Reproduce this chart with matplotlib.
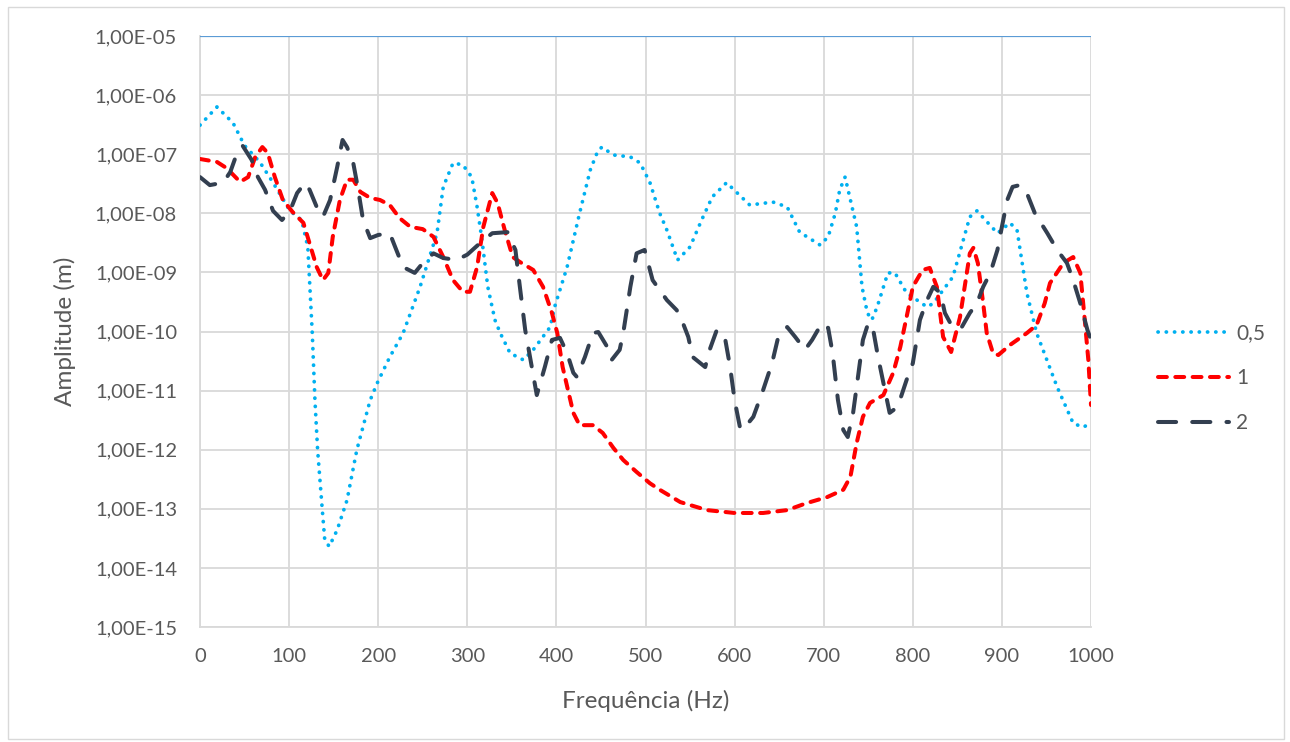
import math
import matplotlib
matplotlib.use("Agg")
import matplotlib.pyplot as plt
from matplotlib.ticker import FixedLocator, FuncFormatter, NullLocator
from matplotlib.patches import Rectangle

# ---------------- data ----------------
f_05 = [0, 19, 37, 50, 67, 82, 101, 114, 121, 126, 129, 132, 137, 140, 145, 154, 165, 176,
        191, 199, 213, 228, 247, 266, 273, 284, 295, 305, 311, 316, 323, 331, 337, 348, 363,
        374, 393, 398, 412, 426, 438, 446, 451, 464, 483, 494, 505, 516, 524, 536, 550, 563,
        575, 591, 617, 643, 659, 673, 696, 705, 713, 718, 724, 737, 743, 749, 754, 760, 772,
        780, 793, 816, 823, 845, 864, 872, 895, 909, 917, 928, 939, 962, 980, 991, 1000]
a_05 = [3.1e-7, 6.3e-7, 3.4e-7, 1.4e-7, 7.4e-8, 3.3e-8, 1.1e-8, 7.7e-9, 2.7e-9, 9.4e-11,
        6.9e-12, 9.9e-13, 1.07e-13, 3.0e-14, 2.3e-14, 4.4e-14, 1.4e-13, 9.9e-13,
        6.9e-12, 1.35e-11, 3.7e-11, 9.4e-11, 5.7e-10, 4.6e-9, 2.8e-8, 7.1e-8, 6.6e-8, 4.1e-8,
        1.28e-8, 4.0e-9, 5.7e-10, 1.57e-10, 9.4e-11, 4.3e-11, 3.3e-11,
        4.9e-11, 1.19e-10, 2.6e-10, 1.23e-9, 1.0e-8, 5.4e-8, 1.09e-7, 1.32e-7, 9.7e-8, 9.0e-8,
        7.1e-8, 3.3e-8, 1.0e-8, 5.2e-9, 1.62e-9, 2.7e-9, 7.7e-9,
        1.9e-8, 3.3e-8, 1.38e-8, 1.55e-8, 1.28e-8, 4.8e-9, 2.9e-9, 4.0e-9, 1.0e-8, 2.5e-8,
        4.1e-8, 5.9e-9, 5.7e-10, 2.06e-10, 1.57e-10, 2.6e-10, 9.8e-10,
        9.8e-10, 4.5e-10, 2.6e-10, 3.0e-10, 8.4e-10, 8.7e-9, 1.1e-8, 4.6e-9, 6.9e-9, 5.2e-9,
        4.5e-10, 9.4e-11, 1.15e-11, 2.8e-12, 2.4e-12, 2.8e-12]

f_1 = [0, 19, 30, 45, 54, 62, 70, 76, 84, 93, 104, 116, 123, 131, 138, 144, 149, 157, 165,
       172, 180, 191, 202, 213, 224, 236, 250, 262, 273, 284, 295, 303, 311, 318, 328, 334,
       342, 351, 359, 374, 385, 395, 401, 407, 413, 419, 426, 441, 452, 464, 475, 490, 505,
       516, 539, 569, 600, 632, 659, 681, 704, 722, 730, 737, 744, 752, 767, 778, 786, 797,
       800, 811, 819, 827, 834, 843, 853, 864, 868, 873, 879, 883, 890, 896, 909, 928, 939,
       948, 954, 969, 980, 988, 993, 997, 1000]
a_1 = [8.3e-8, 7.4e-8, 5.8e-8, 3.4e-8, 4.1e-8, 9.0e-8, 1.32e-7, 1.05e-7, 4.1e-8, 1.68e-8,
       1.05e-8, 6.9e-9, 3.1e-9, 1.23e-9, 7.4e-10, 9.8e-10, 4.0e-9, 1.68e-8, 3.7e-8,
       3.7e-8, 2.3e-8, 1.82e-8, 1.68e-8, 1.38e-8, 8.3e-9, 5.9e-9, 5.4e-9, 4.0e-9, 1.82e-9,
       7.4e-10, 4.7e-10, 4.7e-10, 1.23e-9, 5.9e-9, 2.2e-8, 1.49e-8,
       5.2e-9, 1.82e-9, 1.5e-9, 1.1e-9, 5.7e-10, 2.06e-10, 9.4e-11, 2.5e-11, 1.02e-11, 4.2e-12,
       2.6e-12, 2.6e-12, 1.92e-12, 1.07e-12, 6.7e-13, 4.2e-13, 2.7e-13,
       2.1e-13, 1.3e-13, 9.5e-14, 8.5e-14, 8.5e-14, 9.5e-14, 1.25e-13, 1.58e-13, 2.1e-13,
       3.5e-13, 1.3e-12, 3.6e-12, 6.2e-12, 8.4e-12, 2.0e-11, 5.5e-11, 3.4e-10,
       5.7e-10, 1.1e-9, 1.19e-9, 5.7e-10, 8.1e-11, 4.5e-11, 1.76e-10, 2.1e-9, 2.6e-9, 1.44e-9,
       3.0e-10, 9.4e-11, 4.3e-11, 4.0e-11, 5.9e-11, 9.4e-11, 1.29e-10,
       3.0e-10, 6.6e-10, 1.44e-9, 1.82e-9, 9.8e-10, 1.57e-10, 3.3e-11, 5.7e-12]

f_2 = [0, 11, 26, 34, 42, 48, 58, 65, 73, 82, 92, 101, 109, 118, 123, 131, 138, 146, 154,
       160, 165, 172, 177, 183, 191, 200, 213, 219, 228, 241, 250, 262, 273, 288, 300, 314,
       328, 345, 354, 359, 365, 378, 387, 395, 404, 412, 419, 423, 432, 441, 447, 457, 462,
       471, 475, 483, 490, 499, 508, 524, 535, 542, 548, 553, 567, 572, 580, 589, 595, 600,
       606, 609, 621, 632, 642, 649, 659, 668, 679, 687, 698, 705, 710, 716, 722, 727, 733,
       738, 744, 750, 755, 761, 767, 774, 783, 793, 800, 808, 816, 823, 831, 836, 845, 855,
       864, 872, 879, 887, 895, 900, 906, 912, 920, 928, 937, 951, 962, 973, 980, 988, 996, 1000]
a_2 = [4.1e-8, 3.0e-8, 3.3e-8, 5.0e-8, 1.09e-7, 1.38e-7, 8.0e-8, 4.1e-8, 2.5e-8, 1.1e-8,
       7.7e-9, 1.1e-8, 2.2e-8, 3.3e-8, 2.5e-8, 1.28e-8, 8.7e-9, 1.68e-8, 6.1e-8,
       1.74e-7, 1.32e-7, 7.1e-8, 2.8e-8, 7.7e-9, 3.8e-9, 4.3e-9, 4.6e-9, 2.7e-9, 1.23e-9,
       9.8e-10, 1.44e-9, 2.1e-9, 1.75e-9, 1.62e-9, 2.0e-9, 3.1e-9,
       4.6e-9, 4.8e-9, 2.4e-9, 5.7e-10, 1.06e-10, 8.4e-12, 2.5e-11, 7.2e-11, 7.8e-11, 4.3e-11,
       2.0e-11, 1.7e-11, 3.7e-11, 9.4e-11, 9.8e-11, 5.5e-11, 3.3e-11,
       4.9e-11, 9.4e-11, 5.7e-10, 2.1e-9, 2.4e-9, 7.4e-10, 3.4e-10, 2.3e-10, 1.39e-10, 8.1e-11,
       3.7e-11, 2.5e-11, 4.9e-11, 1.06e-10, 8.1e-11, 2.5e-11, 6.9e-12,
       2.4e-12, 2.15e-12, 3.6e-12, 1.02e-11, 2.9e-11, 8.1e-11, 1.19e-10, 8.1e-11, 4.9e-11,
       7.2e-11, 1.39e-10, 1.15e-10, 4.3e-11, 6.9e-12, 2.15e-12, 1.64e-12, 4.2e-12,
       1.51e-11, 7.2e-11, 1.39e-10, 1.19e-10, 3.7e-11, 1.35e-11, 4.2e-12, 5.3e-12, 1.51e-11,
       2.9e-11, 1.57e-10, 3.4e-10, 5.7e-10, 4.5e-10, 2.06e-10, 1.15e-10, 1.19e-10,
       2.06e-10, 3.0e-10, 5.7e-10, 9.8e-10, 2.4e-9, 5.9e-9, 1.68e-8, 2.8e-8, 3.0e-8, 2.2e-8,
       1.0e-8, 4.6e-9, 2.4e-9, 1.44e-9, 7.4e-10, 3.0e-10, 1.06e-10, 7.2e-11]

top_line_value = 1e-5
series_labels = ["0,5", "1", "2"]
x_ticks = [0, 100, 200, 300, 400, 500, 600, 700, 800, 900, 1000]
y_ticks = [1e-15, 1e-14, 1e-13, 1e-12, 1e-11, 1e-10, 1e-9, 1e-8, 1e-7, 1e-6, 1e-5]
x_label = "Frequência (Hz)"
y_label = "Amplitude (m)"

# ---------------- plot ----------------
plt.rcParams['font.family'] = ['Lato', 'DejaVu Sans']
text_c = '#595959'
grid_c = '#D9D9D9'

fig = plt.figure(figsize=(12.9, 7.42), dpi=100)
fig.patches.append(Rectangle((0.006, 0.004), 0.989, 0.986, transform=fig.transFigure,
                             fill=False, edgecolor=grid_c, linewidth=1))
ax = fig.add_axes([200/1290, 1-627/742, (1091-200)/1290, (627-36)/742])

ax.set_yscale('log')
ax.set_xlim(0, 1000)
ax.set_ylim(1e-15, 1e-5)

ax.xaxis.set_major_locator(FixedLocator(x_ticks))
ax.yaxis.set_major_locator(FixedLocator(y_ticks))
ax.yaxis.set_minor_locator(NullLocator())
ax.grid(True, which='major', color=grid_c, linewidth=1.3)
ax.set_axisbelow(True)


def fmt(v, pos):
    e = int(round(math.log10(v)))
    return "1,00E%s%02d" % ('-' if e < 0 else '+', abs(e))


ax.yaxis.set_major_formatter(FuncFormatter(fmt))
for s in ['top', 'right']:
    ax.spines[s].set_visible(False)
for s in ['left', 'bottom']:
    ax.spines[s].set_color(grid_c)
    ax.spines[s].set_linewidth(1.3)
ax.tick_params(length=0, labelsize=14.5, labelcolor=text_c)
ax.tick_params(axis='y', pad=16.5)
ax.tick_params(axis='x', pad=15)

ax.axhline(top_line_value, color='#5B9BD5', linewidth=1.6, zorder=3)

l1, = ax.plot(f_05, a_05, color='#00B0F0', linewidth=2.7, linestyle=(0, (0.05, 2.15)),
              dash_capstyle='round', label=series_labels[0], zorder=4)
l2, = ax.plot(f_1, a_1, color='#FF0000', linewidth=2.9, linestyle=(0, (2.2, 2.1)),
              dash_capstyle='round', label=series_labels[1], zorder=5)
l3, = ax.plot(f_2, a_2, color='#333F50', linewidth=2.9, linestyle=(0, (4.5, 4.0)),
              dash_capstyle='round', label=series_labels[2], zorder=6)

ax.set_xlabel(x_label, fontsize=17.5, color=text_c, va='center')
ax.xaxis.set_label_coords(0.5, (627-701)/591)
ax.set_ylabel(y_label, fontsize=17.5, color=text_c, va='center')
ax.yaxis.set_label_coords((65-200)/891, 0.5)

leg = ax.legend(handles=[l1, l2, l3], loc='center left',
                bbox_to_anchor=((1158-200)/891, (627-378)/591),
                frameon=False, fontsize=15, handlelength=3.4, handletextpad=0.35,
                labelspacing=1.2, borderpad=0, borderaxespad=0, labelcolor=text_c)

fig.savefig('out.png', dpi=100, facecolor='white')
